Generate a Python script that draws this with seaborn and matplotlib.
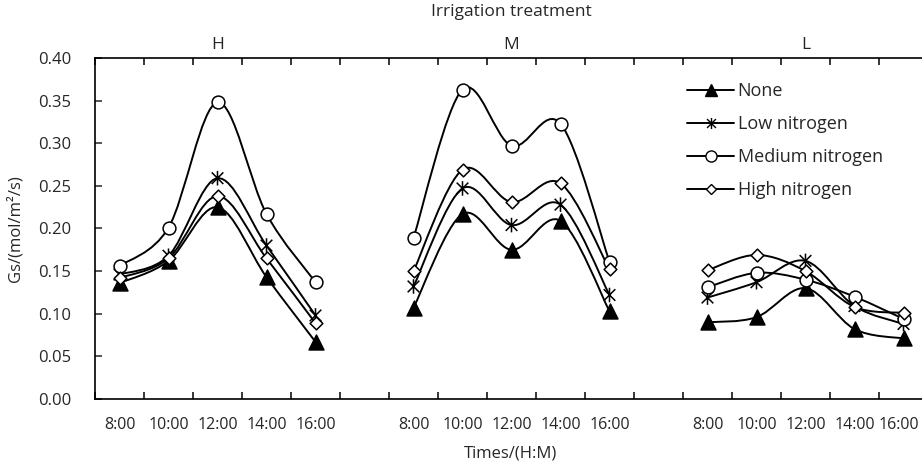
import numpy as np
import pandas as pd
import matplotlib
matplotlib.use("Agg")
import matplotlib.pyplot as plt
import matplotlib.transforms as mtransforms
from matplotlib.path import Path
from matplotlib.patches import PathPatch
from matplotlib.lines import Line2D
import seaborn as sns

# values (Gs, mol/m2/s)
times = ["8:00", "10:00", "12:00", "14:00", "16:00"]
irrigation = ["H", "M", "L"]
series_names = ["None", "Low nitrogen", "Medium nitrogen", "High nitrogen"]

none_vals = [0.136, 0.162, 0.225, 0.143, 0.067,
             0.107, 0.217, 0.175, 0.209, 0.103,
             0.090, 0.096, 0.130, 0.082, 0.071]
low_vals = [0.146, 0.168, 0.259, 0.180, 0.098,
            0.132, 0.247, 0.204, 0.228, 0.122,
            0.119, 0.137, 0.162, 0.109, 0.088]
medium_vals = [0.156, 0.201, 0.348, 0.217, 0.137,
               0.189, 0.363, 0.297, 0.323, 0.161,
               0.131, 0.148, 0.140, 0.120, 0.094]
high_vals = [0.142, 0.165, 0.238, 0.165, 0.089,
             0.150, 0.269, 0.231, 0.253, 0.152,
             0.151, 0.169, 0.150, 0.108, 0.101]

# excel-like star: X with a vertical bar
star = Path([(-1, -1), (1, 1), (-1, 1), (1, -1), (0, -1.25), (0, 1.25)],
            [Path.MOVETO, Path.LINETO, Path.MOVETO, Path.LINETO, Path.MOVETO, Path.LINETO])

styles = {
    "None": dict(marker="^", s=115, fc="black"),
    "Low nitrogen": dict(marker=star, s=110, fc="none"),
    "Medium nitrogen": dict(marker="o", s=85, fc="white"),
    "High nitrogen": dict(marker="D", s=42, fc="white"),
}
legend_ms = {"None": 8, "Low nitrogen": 8, "Medium nitrogen": 8, "High nitrogen": 5}

rows = []
for name, vals in zip(series_names, [none_vals, low_vals, medium_vals, high_vals]):
    for g, grp in enumerate(irrigation):
        for t, tm in enumerate(times):
            rows.append({"series": name, "group": grp, "time": tm,
                         "pos": g * 6 + t, "gs": vals[g * 5 + t]})
df = pd.DataFrame(rows)


def smooth_path(x, y):
    # excel style smoothed line: cubic bezier with catmull-rom control points
    pts = np.column_stack([x, y]).astype(float)
    n = len(pts)
    verts = [pts[0]]
    codes = [Path.MOVETO]
    for i in range(n - 1):
        p0 = pts[max(i - 1, 0)]
        p1 = pts[i]
        p2 = pts[i + 1]
        p3 = pts[min(i + 2, n - 1)]
        verts += [p1 + (p2 - p0) / 6.0, p2 - (p3 - p1) / 6.0, p2]
        codes += [Path.CURVE4, Path.CURVE4, Path.CURVE4]
    return Path(verts, codes)


sns.set_theme(style="ticks")
plt.rcParams["font.family"] = ["Open Sans", "DejaVu Sans"]
plt.rcParams["font.size"] = 12

fig = plt.figure(figsize=(9.22, 4.65), dpi=100)
ax = fig.add_axes([95 / 922, 66 / 465, 827 / 922, 341 / 465])

for name in series_names:
    sub = df[df["series"] == name]
    for grp in irrigation:
        gsub = sub[sub["group"] == grp]
        ax.add_patch(PathPatch(smooth_path(gsub["pos"], gsub["gs"]),
                               facecolor="none", edgecolor="black", lw=1.4, zorder=2))
    st = styles[name]
    sns.scatterplot(data=sub, x="pos", y="gs", marker=st["marker"], s=st["s"],
                    facecolor=st["fc"], edgecolor="black", linewidth=1.1,
                    zorder=3, ax=ax, legend=False)

ax.set_xlim(-0.5, -0.5 + 827 / 49)
ax.set_ylim(0, 0.40)
ax.set_yticks(np.arange(0, 0.401, 0.05))
ax.set_yticklabels([f"{v:.2f}" for v in np.arange(0, 0.401, 0.05)])

# category boundaries carry the ticks, centres carry the labels
ax.set_xticks(np.arange(-0.5, 16.0, 1.0))
ax.set_xticklabels([])
ax.set_xticks(sorted(df["pos"].unique()), minor=True)
ax.set_xticklabels(times * 3, minor=True)
ax.tick_params(axis="x", which="major", direction="in", length=5, width=1.1,
               top=True, bottom=True, colors="black")
ax.tick_params(axis="x", which="minor", length=0, pad=13, labelsize=11.5)
ax.tick_params(axis="y", direction="in", length=5, width=1.1, pad=17, labelsize=12)

# the last label sits against the right edge, nudge it inside like the original
last = ax.get_xticklabels(minor=True)[-1]
last.set_transform(last.get_transform() +
                   mtransforms.ScaledTranslation(-5 / 100, 0, fig.dpi_scale_trans))

for side in ["left", "top", "bottom"]:
    ax.spines[side].set_visible(True)
    ax.spines[side].set_linewidth(1.2)
    ax.spines[side].set_color("black")
ax.spines["right"].set_visible(False)

ax.set_xlabel("Times/(H:M)", fontsize=12)
ax.xaxis.set_label_coords(0.503, -0.135)
ax.set_ylabel("Gs/(mol/m²/s)", fontsize=12)
ax.yaxis.set_label_coords(-0.087, 0.5)

trans = ax.get_xaxis_transform()
for g, grp in enumerate(irrigation):
    ax.text(g * 6 + 2, 1.038, grp, transform=trans, ha="center", va="center", fontsize=12.5)
ax.text(8, 1.135, "Irrigation treatment", transform=trans, ha="center", va="center", fontsize=12.5)

handles = [Line2D([], [], color="black", lw=1.4, marker=styles[n]["marker"],
                  markersize=legend_ms[n], markerfacecolor=styles[n]["fc"],
                  markeredgecolor="black", markeredgewidth=1.0)
           for n in series_names]
ax.legend(handles, series_names, loc="upper left", bbox_to_anchor=(0.716, 0.93),
          frameon=False, fontsize=13, handlelength=2.6, handletextpad=0.2,
          labelspacing=0.83, borderpad=0, borderaxespad=0)

fig.savefig("out.png", dpi=100)
